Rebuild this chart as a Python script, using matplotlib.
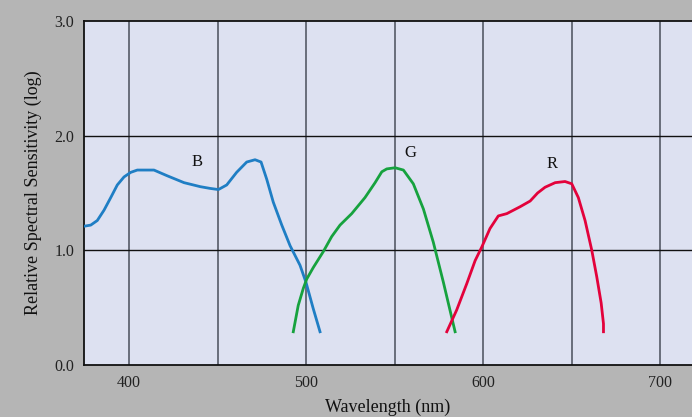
import matplotlib.pyplot as plt

# values
blue_x = [374.6, 378.4, 382.1, 385.9, 389.7, 393.4, 397.2, 401, 404.7, 409.4, 414.1, 421.6, 431.1,
          440.3, 445.8, 450.5, 455.2, 460.8, 466.5, 471.2, 474.6, 477.8, 481.5, 486.3, 491,
          496.6, 500, 504.1, 507.9]
blue_y = [1.21, 1.22, 1.26, 1.35, 1.46, 1.57, 1.64, 1.68, 1.70, 1.70, 1.70, 1.65, 1.59,
          1.555, 1.54, 1.53, 1.57, 1.68, 1.77, 1.79, 1.77, 1.62, 1.42, 1.22, 1.04,
          0.87, 0.72, 0.49, 0.29]

green_x = [492.8, 495.6, 498.5, 500.4, 504.1, 509.8, 514.5, 519.2, 525.8, 533.3, 539, 542.8,
           545.6, 550.3, 555, 560.6, 566.3, 571.9, 577.6, 584.2]
green_y = [0.29, 0.52, 0.67, 0.75, 0.85, 0.99, 1.12, 1.22, 1.32, 1.46, 1.59, 1.685,
           1.71, 1.72, 1.70, 1.58, 1.36, 1.07, 0.72, 0.29]

red_x = [579.5, 585.1, 590.8, 595.5, 599.3, 603.9, 608.6, 613.4, 620.9, 626.6, 630.8, 635,
         640.7, 646.3, 650.1, 653.8, 657.6, 661.4, 664.2, 666.7, 668, 668]
red_y = [0.29, 0.48, 0.71, 0.91, 1.03, 1.19, 1.30, 1.32, 1.38, 1.43, 1.50, 1.55,
         1.59, 1.60, 1.58, 1.46, 1.26, 1.0, 0.77, 0.54, 0.36, 0.29]

curve_names = ['B', 'G', 'R']
name_pos = [(438.4, 1.77), (558.8, 1.85), (639, 1.75)]

x_ticks = [400, 500, 600, 700]
y_ticks = [0.0, 1.0, 2.0, 3.0]

plt.rcParams['font.family'] = ['Liberation Serif', 'DejaVu Serif']

fig = plt.figure(figsize=(6.92, 4.17), dpi=100, facecolor='#b5b5b5')
ax = fig.add_axes([0.1214, 0.1247, 0.8786, 0.825])
ax.set_facecolor('#dde1f1')

# grid lines
for gx in [400, 450, 500, 550, 600, 650, 700]:
    ax.axvline(gx, color='#555a66', lw=1.2, zorder=1)
for gy in [1.0, 2.0]:
    ax.axhline(gy, color='#111111', lw=1.0, zorder=1)

ax.plot(blue_x, blue_y, color='#1f7ec4', lw=2.0, zorder=3, solid_joinstyle='round')
ax.plot(green_x, green_y, color='#16a23e', lw=2.0, zorder=3, solid_joinstyle='round')
ax.plot(red_x, red_y, color='#e3023b', lw=2.0, zorder=3, solid_joinstyle='round')

for name, (tx, ty) in zip(curve_names, name_pos):
    ax.text(tx, ty, name, fontsize=12, ha='center', va='center', color='#111111')

ax.set_xlim(374.6, 718)
ax.set_ylim(0, 3.0)
ax.set_xticks(x_ticks)
ax.set_xticklabels([str(t) for t in x_ticks])
ax.set_yticks(y_ticks)
ax.set_yticklabels(['%.1f' % t for t in y_ticks])
ax.tick_params(length=0, labelsize=11.5, pad=7, colors='#222222')

ax.spines['right'].set_visible(False)
for s in ['left', 'bottom', 'top']:
    ax.spines[s].set_color('#111111')
    ax.spines[s].set_linewidth(1.3)

ax.set_xlabel('Wavelength (nm)', fontsize=13, labelpad=6, color='#111111')
ax.set_ylabel('Relative Spectral Sensitivity (log)', fontsize=13, labelpad=9, color='#111111')

fig.savefig('out.png', dpi=100, facecolor=fig.get_facecolor())
